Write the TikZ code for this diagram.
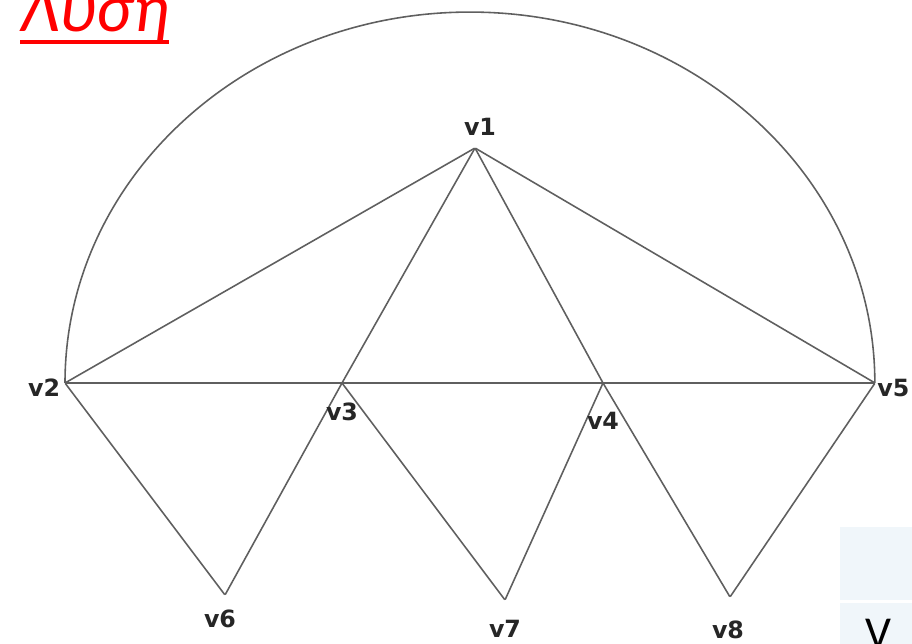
\documentclass[tikz,border=0pt]{standalone}
\usepackage{fontspec}
\setmainfont{Carlito}
\newfontfamily\labelfont{DejaVu Sans}
\usetikzlibrary{positioning}
\definecolor{titlered}{RGB}{255,0,0}
\definecolor{edgegray}{RGB}{95,95,95}
\definecolor{cellblue}{RGB}{240,246,250}

\begin{document}
\begin{tikzpicture}[
    x=0.02cm, y=-0.02cm,
    vtx/.style={inner sep=0pt, minimum size=0pt},
    lbl/.style={font=\labelfont\bfseries\fontsize{13.5}{15}\selectfont, text=black!85, inner sep=1pt},
    edge/.style={draw=edgegray, line width=0.9pt},
    cell/.style={fill=cellblue, draw=none}
  ]
    \useasboundingbox (0,0) rectangle (912,644);
    \clip (0,0) rectangle (912,644);

    % title
    \node[anchor=base west, inner sep=0pt, text=titlered,
          font=\itshape\fontsize{39}{44}\selectfont] (title) at (20,32) {Λύση};
    \draw[titlered, line width=2.7pt] ([yshift=-0.2cm]title.base west) -- ([yshift=-0.2cm]title.base east);

    % vertices
    \node[vtx] (v1) at (475,148) {};
    \node[vtx] (v2) at (65,383) {};
    \node[vtx] (v3) at (342,383) {};
    \node[vtx] (v4) at (603,383) {};
    \node[vtx] (v5) at (875,383) {};
    \node[vtx] (v6) at (225,595) {};
    \node[vtx] (v7) at (505,600) {};
    \node[vtx] (v8) at (730,597) {};

    % edges
    \draw[edge] (v2) arc[start angle=180, end angle=0, x radius=8.1cm, y radius=7.42cm];
    \draw[edge] (v1) -- (v2);
    \draw[edge] (v1) -- (v3);
    \draw[edge] (v1) -- (v4);
    \draw[edge] (v1) -- (v5);
    \draw[edge] (v2) -- (v3);
    \draw[edge] (v3) -- (v4);
    \draw[edge] (v4) -- (v5);
    \draw[edge] (v2) -- (v6);
    \draw[edge] (v6) -- (v3);
    \draw[edge] (v3) -- (v7);
    \draw[edge] (v7) -- (v4);
    \draw[edge] (v4) -- (v8);
    \draw[edge] (v8) -- (v5);

    % labels
    \node[lbl, above=0.2cm of v1, xshift=0.1cm] (l1) {v1};
    \node[lbl, left=0.05cm of v2, yshift=-0.1cm] (l2) {v2};
    \node[lbl, below=0.34cm of v3] (l3) {v3};
    \node[lbl, below=0.54cm of v4] (l4) {v4};
    \node[lbl, right=0.0cm of v5, yshift=-0.1cm] (l5) {v5};
    \node[lbl, below=0.24cm of v6, xshift=-0.1cm] (l6) {v6};
    \node[lbl, below=0.36cm of v7] (l7) {v7};
    \node[lbl, below=0.42cm of v8, xshift=-0.04cm] (l8) {v8};

    % table corner
    \fill[cell] (840,527) rectangle (912,600);
    \fill[cell] (840,603) rectangle (912,644);
    \node[anchor=north, inner sep=0pt, font=\fontsize{26}{30}\selectfont] (cellv) at (878,619) {V};
  \end{tikzpicture}
\end{document}
